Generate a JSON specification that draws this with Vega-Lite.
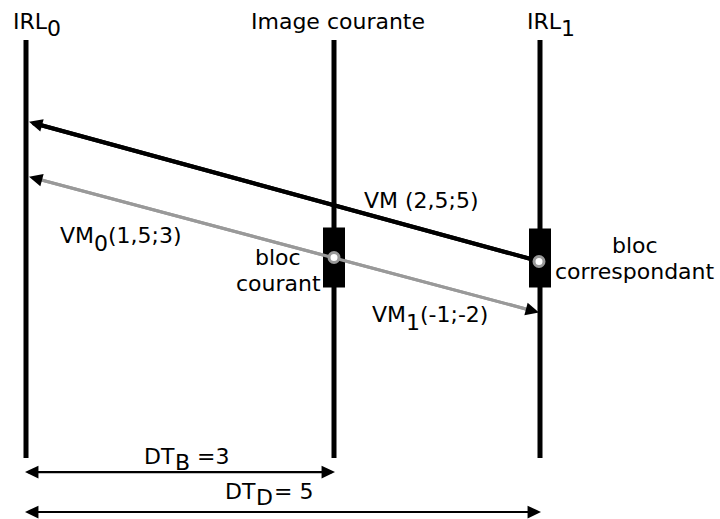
{
  "$schema": "https://vega.github.io/schema/vega-lite/v6.json",
  "width": 720,
  "height": 519,
  "autosize": {"type": "fit", "contains": "padding"},
  "padding": 0,
  "background": "white",
  "config": {"view": {"stroke": null}},
  "datasets": {
    "segments": [
      {"kind": "axis", "x": 26, "y": 40, "x2": 26, "y2": 459},
      {"kind": "axis", "x": 334, "y": 40, "x2": 334, "y2": 459},
      {"kind": "axis", "x": 540, "y": 40, "x2": 540, "y2": 459},
      {"kind": "vm", "x": 540, "y": 262, "x2": 33, "y2": 123.3},
      {"kind": "vm01", "x": 33, "y": 178.2, "x2": 535, "y2": 312},
      {"kind": "dt", "x": 28, "y": 473, "x2": 332, "y2": 473},
      {"kind": "dt", "x": 28, "y": 513, "x2": 538, "y2": 513}
    ],
    "blocks": [
      {"name": "bloc courant", "x": 323, "x2": 345, "y": 228, "y2": 288},
      {"name": "bloc correspondant", "x": 529, "x2": 551, "y": 229, "y2": 288}
    ],
    "centres": [
      {"name": "bloc courant", "x": 334, "y": 258},
      {"name": "bloc correspondant", "x": 539, "y": 262}
    ],
    "heads": [
      {"arrow": "vm-left", "kind": "vm", "x": 35.5, "y": 123.8},
      {"arrow": "vm01-left", "kind": "vm01", "x": 35.5, "y": 178.7},
      {"arrow": "vm01-right", "kind": "vm01", "x": 532.5, "y": 311.3},
      {"arrow": "dt-left", "kind": "dt", "x": 31.7, "y": 473},
      {"arrow": "dt-left", "kind": "dt", "x": 31.7, "y": 513},
      {"arrow": "dt-right", "kind": "dt", "x": 328.3, "y": 473},
      {"arrow": "dt-right", "kind": "dt", "x": 534.3, "y": 513}
    ],
    "labels": [
      {"text": "IRL", "x": 13, "y": 29},
      {"text": "0", "x": 47, "y": 36},
      {"text": "Image courante", "x": 251, "y": 29},
      {"text": "IRL", "x": 527, "y": 29},
      {"text": "1", "x": 561, "y": 36},
      {"text": "VM (2,5;5)", "x": 364, "y": 208},
      {"text": "VM", "x": 60, "y": 243},
      {"text": "0", "x": 94, "y": 251},
      {"text": "(1,5;3)", "x": 108, "y": 243},
      {"text": "bloc", "x": 255, "y": 266},
      {"text": "courant", "x": 236, "y": 292},
      {"text": "bloc", "x": 612, "y": 253},
      {"text": "correspondant", "x": 555, "y": 280},
      {"text": "VM", "x": 372, "y": 323},
      {"text": "1", "x": 406, "y": 331},
      {"text": "(-1;-2)", "x": 420, "y": 323},
      {"text": "DT", "x": 144, "y": 465},
      {"text": "B", "x": 175, "y": 471},
      {"text": "=3", "x": 197, "y": 465},
      {"text": "DT", "x": 225, "y": 500},
      {"text": "D", "x": 256, "y": 506},
      {"text": "= 5", "x": 274, "y": 500}
    ]
  },
  "layer": [
    {
      "data": {"name": "segments"},
      "mark": {"type": "rule"},
      "encoding": {
        "x": {"field": "x", "type": "quantitative", "scale": {"domain": [0, 720], "nice": false, "zero": false}, "axis": null},
        "y": {"field": "y", "type": "quantitative", "scale": {"domain": [0, 519], "nice": false, "zero": false, "reverse": true}, "axis": null},
        "x2": {"field": "x2"},
        "y2": {"field": "y2"},
        "color": {"field": "kind", "type": "nominal", "scale": {"domain": ["axis", "vm", "vm01", "dt"], "range": ["#000000", "#000000", "#999999", "#000000"]}, "legend": null},
        "strokeWidth": {"field": "kind", "type": "nominal", "scale": {"domain": ["axis", "vm", "vm01", "dt"], "range": [5, 2.2, 2.2, 3]}, "legend": null}
      }
    },
    {
      "data": {"name": "blocks"},
      "mark": {"type": "rect", "color": "#000000"},
      "encoding": {
        "x": {"field": "x", "type": "quantitative"},
        "x2": {"field": "x2"},
        "y": {"field": "y", "type": "quantitative"},
        "y2": {"field": "y2"}
      }
    },
    {
      "data": {"name": "segments"},
      "transform": [{"filter": "datum.kind === 'vm' || datum.kind === 'vm01'"}],
      "mark": {"type": "rule"},
      "encoding": {
        "x": {"field": "x", "type": "quantitative"},
        "y": {"field": "y", "type": "quantitative"},
        "x2": {"field": "x2"},
        "y2": {"field": "y2"},
        "color": {"field": "kind", "type": "nominal", "legend": null},
        "strokeWidth": {"field": "kind", "type": "nominal", "legend": null}
      }
    },
    {
      "data": {"name": "centres"},
      "mark": {"type": "point", "shape": "circle", "filled": false, "fill": "#ffffff", "fillOpacity": 1, "stroke": "#999999", "strokeWidth": 3, "opacity": 1, "size": 100},
      "encoding": {
        "x": {"field": "x", "type": "quantitative"},
        "y": {"field": "y", "type": "quantitative"}
      }
    },
    {
      "data": {"name": "heads"},
      "transform": [{"filter": "datum.arrow === 'vm-left'"}],
      "mark": {"type": "point", "shape": "M-1,0L1,-0.95L1,0.95Z", "filled": true, "opacity": 1, "size": 180, "angle": 15.3, "color": "#000000"},
      "encoding": {
        "x": {"field": "x", "type": "quantitative"},
        "y": {"field": "y", "type": "quantitative"}
      }
    },
    {
      "data": {"name": "heads"},
      "transform": [{"filter": "datum.arrow === 'vm01-left'"}],
      "mark": {"type": "point", "shape": "M-1,0L1,-0.95L1,0.95Z", "filled": true, "opacity": 1, "size": 180, "angle": 14.9, "color": "#000000"},
      "encoding": {
        "x": {"field": "x", "type": "quantitative"},
        "y": {"field": "y", "type": "quantitative"}
      }
    },
    {
      "data": {"name": "heads"},
      "transform": [{"filter": "datum.arrow === 'vm01-right'"}],
      "mark": {"type": "point", "shape": "M-1,0L1,-0.95L1,0.95Z", "filled": true, "opacity": 1, "size": 180, "angle": 194.9, "color": "#000000"},
      "encoding": {
        "x": {"field": "x", "type": "quantitative"},
        "y": {"field": "y", "type": "quantitative"}
      }
    },
    {
      "data": {"name": "heads"},
      "transform": [{"filter": "datum.arrow === 'dt-left'"}],
      "mark": {"type": "point", "shape": "M-1,0L1,-0.95L1,0.95Z", "filled": true, "opacity": 1, "size": 180, "angle": 0, "color": "#000000"},
      "encoding": {
        "x": {"field": "x", "type": "quantitative"},
        "y": {"field": "y", "type": "quantitative"}
      }
    },
    {
      "data": {"name": "heads"},
      "transform": [{"filter": "datum.arrow === 'dt-right'"}],
      "mark": {"type": "point", "shape": "M-1,0L1,-0.95L1,0.95Z", "filled": true, "opacity": 1, "size": 180, "angle": 180, "color": "#000000"},
      "encoding": {
        "x": {"field": "x", "type": "quantitative"},
        "y": {"field": "y", "type": "quantitative"}
      }
    },
    {
      "data": {"name": "labels"},
      "mark": {"type": "text", "align": "left", "baseline": "alphabetic", "font": "DejaVu Sans", "fontSize": 22, "color": "#000000"},
      "encoding": {
        "x": {"field": "x", "type": "quantitative"},
        "y": {"field": "y", "type": "quantitative"},
        "text": {"field": "text", "type": "nominal"}
      }
    }
  ]
}
